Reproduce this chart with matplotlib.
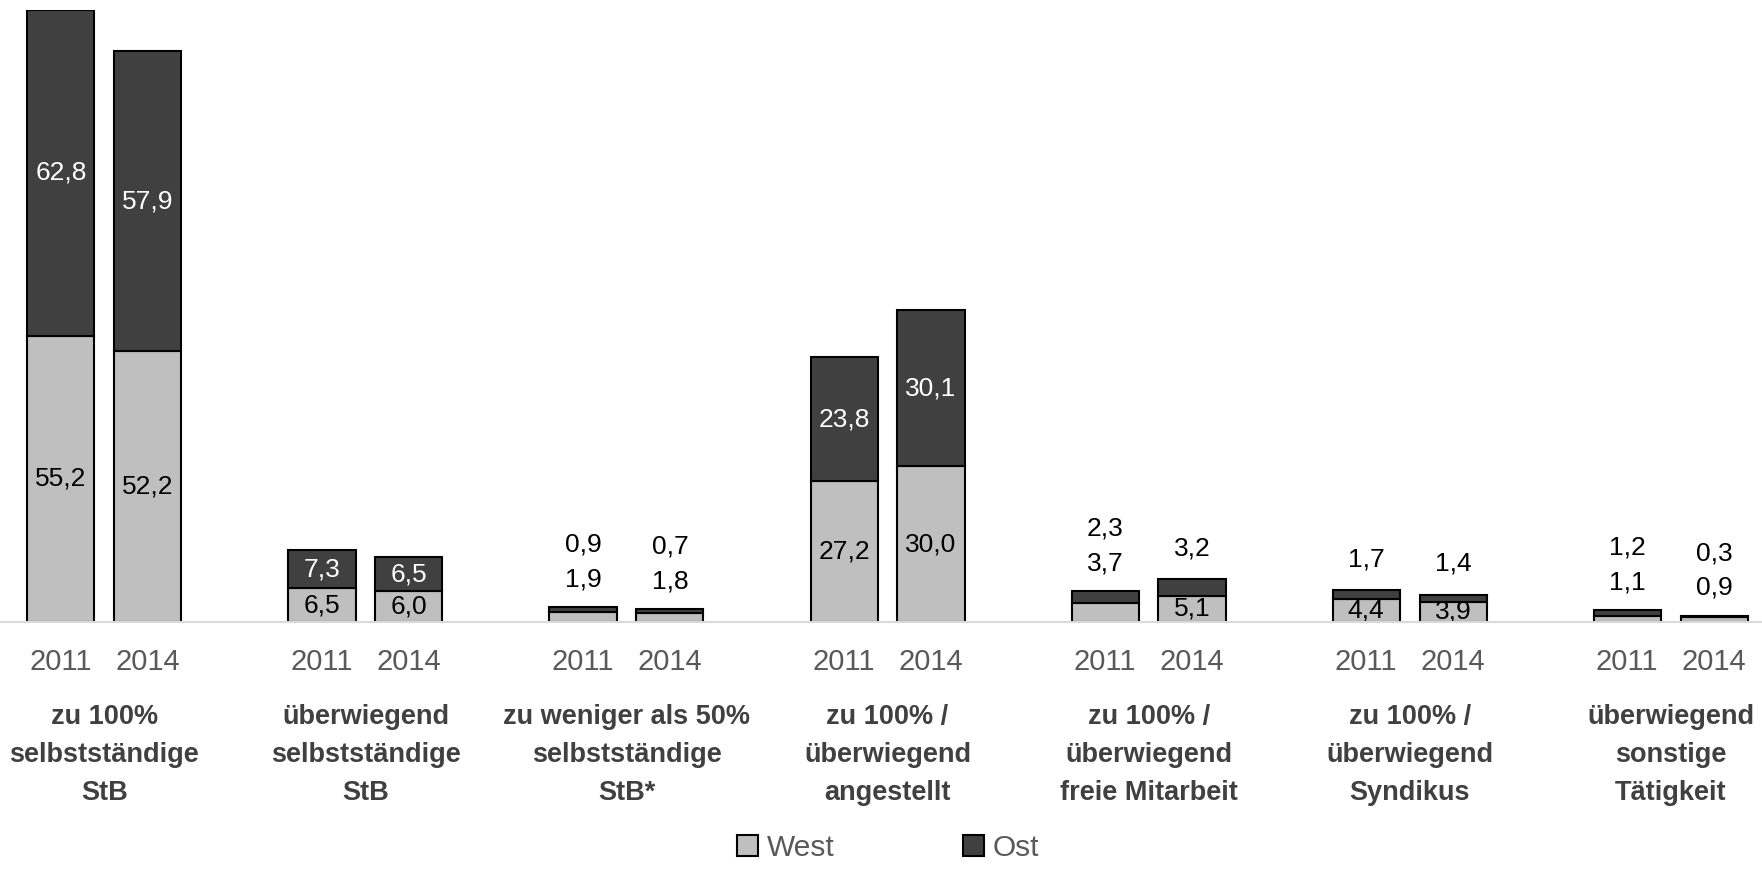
import matplotlib.pyplot as plt
import numpy as np

plt.rcParams['font.family'] = ['Liberation Sans Narrow', 'Liberation Sans', 'DejaVu Sans']

kategorien = ['zu 100%\nselbstständige\nStB',
              'überwiegend\nselbstständige\nStB',
              'zu weniger als 50%\nselbstständige\nStB*',
              'zu 100% /\nüberwiegend\nangestellt',
              'zu 100% /\nüberwiegend\nfreie Mitarbeit',
              'zu 100% /\nüberwiegend\nSyndikus',
              'überwiegend\nsonstige\nTätigkeit']
jahre = ['2011', '2014']

west_2011 = [55.2, 6.5, 1.9, 27.2, 3.7, 4.4, 1.1]
ost_2011 = [62.8, 7.3, 0.9, 23.8, 2.3, 1.7, 1.2]
west_2014 = [52.2, 6.0, 1.8, 30.0, 5.1, 3.9, 0.9]
ost_2014 = [57.9, 6.5, 0.7, 30.1, 3.2, 1.4, 0.3]

# wo die Werte stehen: 'in' = im Balken, 'oben' = über dem Balken
modus_west_2011 = ['in', 'in', 'oben', 'in', 'oben', 'in', 'oben']
modus_ost_2011 = ['in', 'in', 'oben', 'in', 'oben', 'oben', 'oben']
modus_west_2014 = ['in', 'in', 'oben', 'in', 'in', 'in', 'oben']
modus_ost_2014 = ['in', 'in', 'oben', 'in', 'oben', 'oben', 'oben']

c_west = '#BFBFBF'
c_ost = '#404040'
grau = '#595959'

fig = plt.figure(figsize=(17.62, 8.69), dpi=100)
ax = fig.add_axes([0, 1 - 622 / 869, 1, 612 / 869])

x = np.arange(len(kategorien))
off = 0.1665
bw = 0.257


def fmt(v):
    return f'{v:.1f}'.replace('.', ',')


for dx, west, ost, mw, mo in [(-off, west_2011, ost_2011, modus_west_2011, modus_ost_2011),
                              (off, west_2014, ost_2014, modus_west_2014, modus_ost_2014)]:
    xs = x + dx
    ax.bar(xs, west, bw, color=c_west, edgecolor='black', linewidth=1.5, zorder=3)
    ax.bar(xs, ost, bw, bottom=west, color=c_ost, edgecolor='black', linewidth=1.5, zorder=3)
    for i in range(len(xs)):
        top = west[i] + ost[i]
        n_oben = 0
        if mw[i] == 'in':
            ax.text(xs[i], west[i] / 2, fmt(west[i]), ha='center', va='center',
                    fontsize=19, color='black', zorder=4)
        else:
            n_oben += 1
            ax.annotate(fmt(west[i]), (xs[i], top), xytext=(0, 20), textcoords='offset points',
                        ha='center', va='center', fontsize=19, color='black')
        if mo[i] == 'in':
            ax.text(xs[i], west[i] + ost[i] / 2, fmt(ost[i]), ha='center', va='center',
                    fontsize=19, color='white', zorder=4)
        else:
            dy = 45 if n_oben else 22
            ax.annotate(fmt(ost[i]), (xs[i], top), xytext=(0, dy), textcoords='offset points',
                        ha='center', va='center', fontsize=19, color='black')

ax.set_xlim(-0.4, 6.35)
ax.set_ylim(0, 118)
for s in ['top', 'right', 'left']:
    ax.spines[s].set_visible(False)
ax.spines['bottom'].set_color('#D9D9D9')
ax.spines['bottom'].set_linewidth(1.5)
ax.spines['bottom'].set_zorder(5)
ax.set_yticks([])

pos = np.concatenate([x - off, x + off])
ax.set_xticks(pos)
ax.set_xticklabels([jahre[0]] * len(x) + [jahre[1]] * len(x))
ax.tick_params(axis='x', length=0, pad=19, labelsize=21, labelcolor=grau)

for i, k in enumerate(kategorien):
    ax.annotate(k, (x[i], 0), xycoords=('data', 'axes fraction'), xytext=(0, -59),
                textcoords='offset points', ha='center', va='top', fontsize=19.5,
                fontweight='bold', color='#404040', linespacing=1.6)

h1 = plt.Rectangle((0, 0), 1, 1, facecolor=c_west, edgecolor='black', linewidth=1.5)
h2 = plt.Rectangle((0, 0), 1, 1, facecolor=c_ost, edgecolor='black', linewidth=1.5)
leg = fig.legend([h1, h2], ['West', 'Ost'], loc='center', bbox_to_anchor=(0.504, 0.024),
                 ncol=2, frameon=False, fontsize=21.5, handlelength=0.7, handleheight=0.7,
                 handletextpad=0.3, columnspacing=4.3, borderpad=0.2)
for t in leg.get_texts():
    t.set_color(grau)

fig.savefig('out.png', dpi=100)
